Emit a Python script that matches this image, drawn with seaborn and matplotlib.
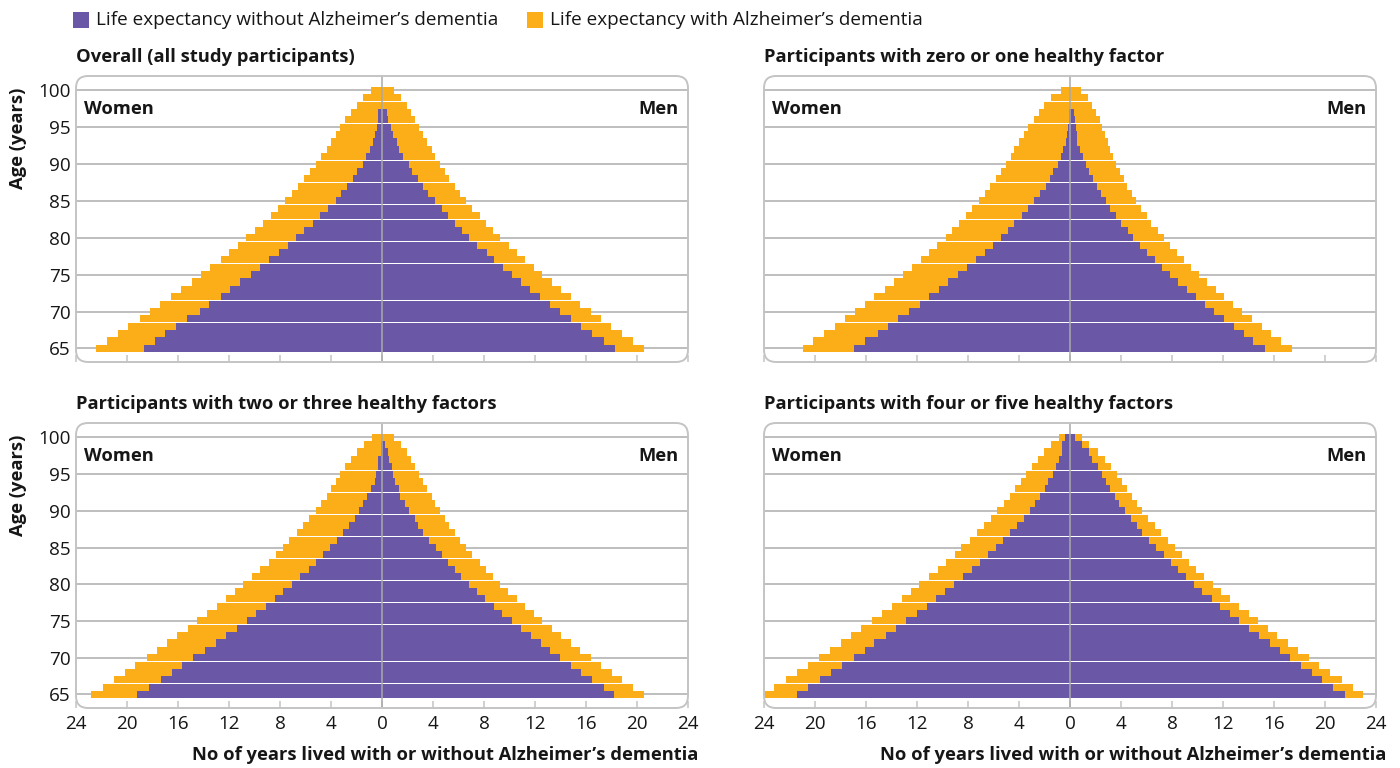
import numpy as np
import matplotlib
matplotlib.use("Agg")
import matplotlib.pyplot as plt
import seaborn as sns
from matplotlib.patches import FancyBboxPatch, Rectangle

# Ages, listed from the top bar (100) down to the bottom bar (65)
AGES = list(range(100, 64, -1))

# Overall (all study participants)
overall_women_without = [0.00, 0.00, 0.00, 0.29, 0.32, 0.39, 0.52, 0.71, 0.92, 1.23,
                         1.46, 1.93, 2.25, 2.72, 3.19, 3.58, 4.21, 4.84, 5.39, 6.09,
                         6.72, 7.35, 8.05, 8.84, 9.57, 10.25, 11.11, 11.90, 12.60, 13.54,
                         14.25, 15.27, 16.13, 16.99, 17.78, 18.64]
overall_women_total = [0.84, 1.52, 2.00, 2.40, 2.88, 3.27, 3.58, 3.97, 4.29, 4.76,
                       5.15, 5.62, 6.09, 6.56, 7.03, 7.58, 8.13, 8.68, 9.31, 9.93,
                       10.64, 11.27, 11.97, 12.60, 13.46, 14.17, 14.88, 15.74, 16.52, 17.39,
                       18.17, 18.95, 19.90, 20.68, 21.54, 22.40]
overall_men_without = [0.00, 0.00, 0.00, 0.39, 0.47, 0.71, 0.86, 1.18, 1.33, 1.65,
                       2.12, 2.35, 2.82, 3.22, 3.61, 4.16, 4.71, 5.18, 5.73, 6.27,
                       6.82, 7.45, 8.24, 8.78, 9.49, 10.20, 10.90, 11.61, 12.39, 13.18,
                       13.96, 14.82, 15.61, 16.47, 17.41, 18.27]
overall_men_total = [0.94, 1.49, 1.96, 2.27, 2.59, 2.90, 3.22, 3.53, 3.92, 4.16,
                     4.55, 4.94, 5.25, 5.73, 6.12, 6.59, 7.06, 7.69, 8.16, 8.71,
                     9.25, 9.96, 10.59, 11.22, 11.92, 12.55, 13.33, 14.04, 14.82, 15.53,
                     16.39, 17.18, 17.96, 18.82, 19.69, 20.55]

# Participants with zero or one healthy factor
low_women_without = [0.00, 0.00, 0.00, 0.08, 0.10, 0.16, 0.24, 0.31, 0.55, 0.71,
                     0.94, 1.33, 1.57, 1.88, 2.35, 2.82, 3.29, 3.76, 4.39, 4.86,
                     5.41, 6.04, 6.67, 7.37, 8.08, 8.78, 9.57, 10.27, 11.06, 11.76,
                     12.63, 13.49, 14.27, 15.06, 16.08, 16.94]
low_women_total = [0.73, 1.46, 2.01, 2.41, 2.80, 3.27, 3.58, 3.97, 4.37, 4.60,
                   4.99, 5.39, 5.78, 6.25, 6.64, 7.11, 7.66, 8.13, 8.68, 9.23,
                   9.70, 10.41, 11.03, 11.66, 12.37, 13.07, 13.78, 14.48, 15.35, 16.05,
                   16.84, 17.62, 18.41, 19.27, 20.13, 20.92]
low_men_without = [0.00, 0.00, 0.00, 0.34, 0.42, 0.50, 0.58, 0.58, 0.81, 1.05,
                   1.28, 1.52, 1.83, 2.14, 2.46, 2.85, 3.16, 3.63, 4.03, 4.58,
                   4.97, 5.52, 6.07, 6.69, 7.24, 7.87, 8.50, 9.20, 9.91, 10.61,
                   11.32, 12.10, 12.89, 13.67, 14.38, 15.32]
low_men_total = [0.89, 1.44, 1.75, 2.07, 2.38, 2.54, 2.77, 3.01, 3.16, 3.40,
                 3.63, 3.95, 4.26, 4.50, 4.89, 5.20, 5.59, 6.07, 6.38, 6.93,
                 7.40, 7.87, 8.42, 8.97, 9.52, 10.14, 10.77, 11.48, 12.10, 12.81,
                 13.52, 14.30, 15.08, 15.79, 16.58, 17.44]

# Participants with two or three healthy factors
mid_women_without = [0.00, 0.08, 0.08, 0.31, 0.31, 0.47, 0.52, 0.84, 1.15, 1.46,
                     1.78, 2.09, 2.56, 3.03, 3.50, 4.05, 4.60, 5.15, 5.70, 6.41,
                     7.03, 7.74, 8.37, 9.07, 9.86, 10.56, 11.35, 12.21, 12.99, 13.86,
                     14.80, 15.66, 16.44, 17.31, 18.25, 19.19]
mid_women_total = [0.76, 1.39, 1.93, 2.41, 2.88, 3.27, 3.58, 3.97, 4.29, 4.76,
                   5.15, 5.70, 6.17, 6.64, 7.27, 7.74, 8.29, 8.84, 9.54, 10.17,
                   10.88, 11.50, 12.21, 12.92, 13.70, 14.48, 15.19, 16.05, 16.84, 17.62,
                   18.41, 19.35, 20.13, 21.00, 21.86, 22.80]
mid_men_without = [0.00, 0.24, 0.47, 0.55, 0.78, 0.86, 1.02, 1.33, 1.41, 1.80,
                   2.12, 2.59, 2.82, 3.22, 3.69, 4.24, 4.71, 5.18, 5.73, 6.20,
                   6.82, 7.45, 8.08, 8.78, 9.41, 10.20, 10.90, 11.69, 12.47, 13.18,
                   13.96, 14.82, 15.61, 16.47, 17.41, 18.20]
mid_men_total = [0.94, 1.49, 1.96, 2.27, 2.59, 2.90, 3.22, 3.53, 3.92, 4.16,
                 4.55, 4.94, 5.25, 5.73, 6.12, 6.59, 7.06, 7.69, 8.16, 8.71,
                 9.25, 9.88, 10.59, 11.22, 11.92, 12.55, 13.33, 14.04, 14.82, 15.53,
                 16.39, 17.18, 18.04, 18.82, 19.69, 20.55]

# Participants with four or five healthy factors
high_women_without = [0.37, 0.60, 0.60, 0.84, 1.07, 1.31, 1.70, 1.93, 2.33, 2.72,
                      3.11, 3.58, 4.13, 4.68, 5.23, 5.78, 6.41, 7.03, 7.66, 8.37,
                      9.07, 9.78, 10.48, 11.19, 11.97, 12.84, 13.62, 14.41, 15.35, 16.05,
                      16.92, 17.86, 18.72, 19.58, 20.52, 21.39]
high_women_total = [0.84, 1.46, 2.01, 2.48, 2.95, 3.42, 3.82, 4.29, 4.68, 5.15,
                    5.70, 6.17, 6.72, 7.27, 7.82, 8.52, 8.99, 9.70, 10.33, 11.03,
                    11.82, 12.44, 13.15, 13.93, 14.72, 15.50, 16.37, 17.15, 17.93, 18.80,
                    19.66, 20.52, 21.39, 22.25, 23.19, 23.97]
high_men_without = [0.42, 0.97, 1.52, 1.75, 2.22, 2.54, 2.85, 3.16, 3.56, 3.87,
                    4.34, 4.81, 5.28, 5.67, 6.22, 6.77, 7.40, 7.95, 8.50, 9.12,
                    9.75, 10.38, 11.16, 11.79, 12.58, 13.28, 14.07, 14.85, 15.71, 16.50,
                    17.28, 18.14, 19.01, 19.79, 20.65, 21.59]
high_men_total = [0.97, 1.52, 2.22, 2.77, 3.24, 3.71, 4.10, 4.50, 4.89, 5.28,
                  5.67, 6.14, 6.69, 7.16, 7.71, 8.26, 8.81, 9.36, 9.91, 10.54,
                  11.24, 11.87, 12.58, 13.28, 14.07, 14.77, 15.56, 16.26, 17.12, 17.91,
                  18.77, 19.56, 20.42, 21.36, 22.22, 23.01]

TITLES = ["Overall (all study participants)",
          "Participants with zero or one healthy factor",
          "Participants with two or three healthy factors",
          "Participants with four or five healthy factors"]
LEGEND_LABELS = ["Life expectancy without Alzheimer\u2019s dementia",
                 "Life expectancy with Alzheimer\u2019s dementia"]
X_TICKS = list(range(-24, 25, 4))
Y_TICKS = list(range(65, 101, 5))
X_LABEL = "No of years lived with or without Alzheimer\u2019s dementia"
Y_LABEL = "Age (years)"

PURPLE = "#6A58A6"
ORANGE = "#FBAE17"
GRID = "#B9B9B9"
BORDER = "#C4C4C4"
TEXT = "#161616"

sns.set_style("white")
plt.rcParams["font.family"] = ["Open Sans", "DejaVu Sans"]
FS = 13.2       # bold headings and labels
FS_REG = 13.6   # regular legend and tick text

W, H = 1400, 768
fig = plt.figure(figsize=(W / 100, H / 100), dpi=100)


def add_px_axes(x0, y0, x1, y1):
    return fig.add_axes([x0 / W, 1 - y1 / H, (x1 - x0) / W, (y1 - y0) / H])


def draw_panel(ax, w_without, w_total, m_without, m_total, show_y, show_x):
    for gy in Y_TICKS:
        ax.axhline(gy, color=GRID, lw=1.3, zorder=0)
    kw = dict(y=AGES, orient="h", native_scale=True, width=0.96, errorbar=None,
              saturation=1, linewidth=0, ax=ax)
    sns.barplot(x=-np.asarray(w_total), color=ORANGE, **kw)
    sns.barplot(x=-np.asarray(w_without), color=PURPLE, **kw)
    sns.barplot(x=np.asarray(m_total), color=ORANGE, **kw)
    sns.barplot(x=np.asarray(m_without), color=PURPLE, **kw)
    ax.axvline(0, color="#A9A9A9", lw=1.1, zorder=4)

    ax.set_xlim(-24, 24)
    ax.set_ylim(63.15, 101.95)
    ax.set_xlabel("")
    ax.set_ylabel("")
    ax.set_xticks(X_TICKS)
    ax.set_xticklabels([str(abs(t)) for t in X_TICKS])
    ax.set_yticks(Y_TICKS)
    ax.set_yticklabels([str(t) for t in Y_TICKS])
    ax.tick_params(axis="x", direction="in", length=5, width=1.1, color=BORDER,
                   bottom=True, labelbottom=show_x, labelsize=FS_REG,
                   labelcolor=TEXT, pad=5)
    ax.tick_params(axis="y", length=0, left=False, labelleft=show_y,
                   labelsize=FS_REG, labelcolor=TEXT, pad=4)
    for s in ax.spines.values():
        s.set_visible(False)

    bb = ax.get_window_extent()
    r = 12.0
    frame = FancyBboxPatch((0, 0), 1, 1,
                           boxstyle=f"round,pad=0,rounding_size={r / bb.width}",
                           mutation_aspect=bb.width / bb.height,
                           transform=ax.transAxes, fill=False, ec=BORDER, lw=1.4,
                           clip_on=False, zorder=6)
    ax.add_patch(frame)

    ax.text(0.013, 0.885, "Women", transform=ax.transAxes, ha="left", va="center",
            fontsize=FS, fontweight="bold", color=TEXT, zorder=7)
    ax.text(0.984, 0.885, "Men", transform=ax.transAxes, ha="right", va="center",
            fontsize=FS, fontweight="bold", color=TEXT, zorder=7)


panels = [
    ((76, 76, 688, 362), overall_women_without, overall_women_total,
     overall_men_without, overall_men_total, True, False),
    ((764, 76, 1376, 362), low_women_without, low_women_total,
     low_men_without, low_men_total, False, False),
    ((76, 423, 688, 708), mid_women_without, mid_women_total,
     mid_men_without, mid_men_total, True, True),
    ((764, 423, 1376, 708), high_women_without, high_women_total,
     high_men_without, high_men_total, False, True),
]

for (box, ww, wt, mw, mt, sy, sx), title in zip(panels, TITLES):
    ax = add_px_axes(*box)
    draw_panel(ax, ww, wt, mw, mt, sy, sx)
    x0, y0, x1, y1 = box
    fig.text(x0 / W, 1 - (y0 - 19) / H, title, ha="left", va="center",
             fontsize=FS, fontweight="bold", color=TEXT)
    if sy:
        fig.text(18 / W, 1 - (y0 + 12) / H, Y_LABEL, rotation=90, ha="center",
                 va="top", fontsize=FS, fontweight="bold", color=TEXT)
    if sx:
        fig.text((x1 + 10) / W, 1 - 755 / H, X_LABEL, ha="right", va="center",
                 fontsize=FS, fontweight="bold", color=TEXT)

# Legend across the top
for (lx, col), label in zip([(73, PURPLE), (527, ORANGE)], LEGEND_LABELS):
    fig.patches.append(Rectangle((lx / W, 1 - 28 / H), 16 / W, 16 / H,
                                 transform=fig.transFigure, facecolor=col,
                                 edgecolor="none"))
    fig.text((lx + 23) / W, 1 - 20 / H, label, ha="left", va="center",
             fontsize=FS_REG, color=TEXT)

fig.savefig("out.png", dpi=100, facecolor="white")
